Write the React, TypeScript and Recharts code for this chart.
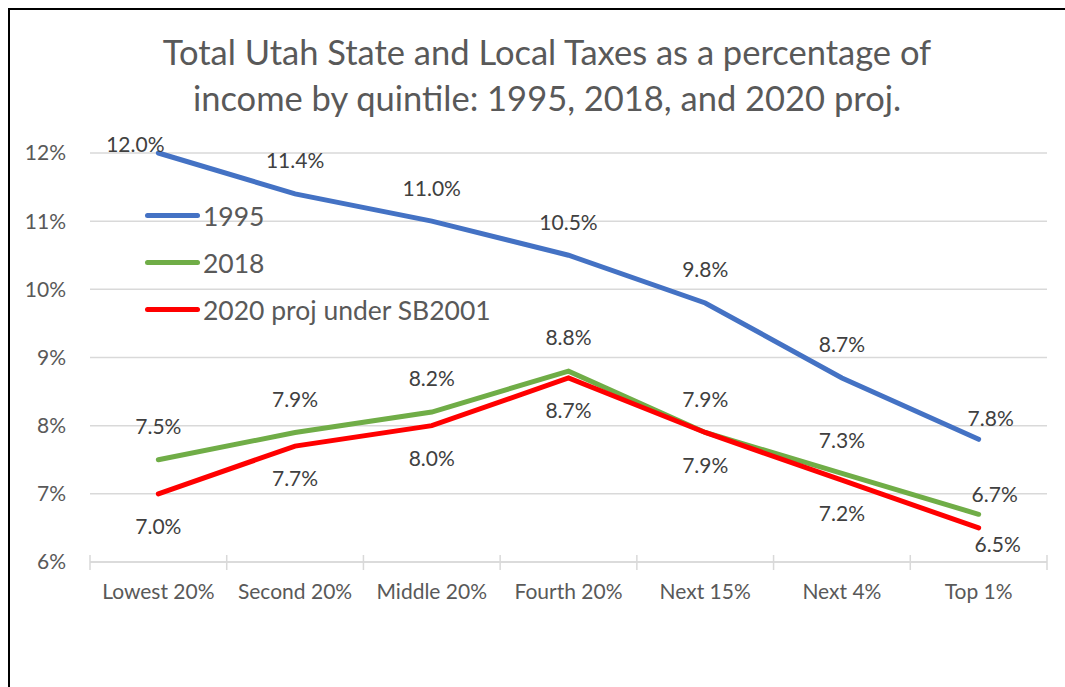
import React from "react";
import { LineChart, Line, XAxis, YAxis, CartesianGrid, LabelList } from "recharts";

const categories = ["Lowest 20%", "Second 20%", "Middle 20%", "Fourth 20%", "Next 15%", "Next 4%", "Top 1%"];
const values1995 = [12.0, 11.4, 11.0, 10.5, 9.8, 8.7, 7.8];
const values2018 = [7.5, 7.9, 8.2, 8.8, 7.9, 7.3, 6.7];
const values2020 = [7.0, 7.7, 8.0, 8.7, 7.9, 7.2, 6.5];
const yTicks = [6, 7, 8, 9, 10, 11, 12];

const seriesInfo = [
  { key: "s1995", name: "1995", color: "#4472C4" },
  { key: "s2018", name: "2018", color: "#70AD47" },
  { key: "s2020", name: "2020 proj under SB2001", color: "#FF0000" },
];

const data = categories.map((c, i) => ({
  category: c,
  s1995: values1995[i],
  s2018: values2018[i],
  s2020: values2020[i],
}));

const FONT = "Lato, Carlito, Calibri, sans-serif";

// label above/below the point, with small nudges at the ends like Excel did
const makeLabel = (below: boolean, first: [number, number], last: [number, number]) => (props: any) => {
  const { x, y, value, index } = props;
  let dx = 0;
  let dy = below ? 33 : -33;
  if (index === 0) { dx += first[0]; dy += first[1]; }
  if (index === categories.length - 1) { dx += last[0]; dy += last[1]; }
  return (
    <text x={x + dx} y={y + dy} dy="0.35em" textAnchor="middle" fontSize={21} fill="#404040" fontFamily={FONT}>
      {Number(value).toFixed(1)}%
    </text>
  );
};

const XTick = (props: any) => {
  const { x, y, payload, index, width, visibleTicksCount } = props;
  const band = width / (visibleTicksCount || categories.length);
  const axisY = y - 8;
  return (
    <g>
      <line x1={x - band / 2} x2={x - band / 2} y1={axisY - 7} y2={axisY + 8} stroke="#D9D9D9" strokeWidth={1.5} />
      {index === categories.length - 1 && (
        <line x1={x + band / 2} x2={x + band / 2} y1={axisY - 7} y2={axisY + 8} stroke="#D9D9D9" strokeWidth={1.5} />
      )}
      <text x={x} y={axisY + 30} dy="0.35em" textAnchor="middle" fontSize={21} fill="#595959" fontFamily={FONT}>
        {payload.value}
      </text>
    </g>
  );
};

const LegendBox = () => (
  <div style={{ position: "absolute", left: 145, top: 192, fontFamily: FONT }}>
    {seriesInfo.map((s) => (
      <div key={s.key} style={{ display: "flex", alignItems: "center", height: 47 }}>
        <div style={{ width: 55, height: 5, borderRadius: 3, background: s.color, marginRight: 3 }} />
        <span style={{ fontSize: 26.5, color: "#595959" }}>{s.name}</span>
      </div>
    ))}
  </div>
);

export default function App() {
  return (
    <div style={{ position: "absolute", left: 0, top: 0, width: 1065, height: 687, background: "#fff", overflow: "hidden" }}>
      <div style={{ position: "absolute", left: 8, top: 8, width: 1100, height: 720, borderLeft: "2.5px solid #000", borderTop: "2.5px solid #000" }} />
      <div style={{ position: "absolute", left: 0, top: 29, width: 1094, textAlign: "center", fontFamily: FONT, fontSize: 34.5, color: "#595959", lineHeight: "46px" }}>
        Total Utah State and Local Taxes as a percentage of<br />income by quintile: 1995, 2018, and 2020 proj.
      </div>
      <div style={{ position: "absolute", left: 0, top: 0 }}>
        <LineChart width={1065} height={687} data={data} margin={{ top: 153, right: 18, bottom: 0, left: 0 }}>
          <CartesianGrid vertical={false} stroke="#D9D9D9" strokeWidth={1.5} />
          <XAxis
            dataKey="category"
            scale="band"
            axisLine={{ stroke: "#D9D9D9", strokeWidth: 1.5 }}
            tickLine={false}
            tick={<XTick />}
            interval={0}
            height={125}
          />
          <YAxis
            width={90}
            domain={[6, 12]}
            ticks={yTicks}
            interval={0}
            axisLine={false}
            tickLine={false}
            tickSize={0}
            tickMargin={24}
            tickFormatter={(v: number) => `${v}%`}
            tick={{ fontSize: 21, fill: "#595959", fontFamily: FONT }}
          />
          <Line type="linear" dataKey="s1995" name="1995" stroke="#4472C4" strokeWidth={5} strokeLinecap="round" dot={false} isAnimationActive={false}>
            <LabelList dataKey="s1995" content={makeLabel(false, [-23, 25], [12, 12])} />
          </Line>
          <Line type="linear" dataKey="s2018" name="2018" stroke="#70AD47" strokeWidth={5} strokeLinecap="round" dot={false} isAnimationActive={false}>
            <LabelList dataKey="s2018" content={makeLabel(false, [0, 0], [16, 13])} />
          </Line>
          <Line type="linear" dataKey="s2020" name="2020 proj under SB2001" stroke="#FF0000" strokeWidth={5} strokeLinecap="round" dot={false} isAnimationActive={false}>
            <LabelList dataKey="s2020" content={makeLabel(true, [0, 0], [19, -16])} />
          </Line>
        </LineChart>
      </div>
      <LegendBox />
    </div>
  );
}
